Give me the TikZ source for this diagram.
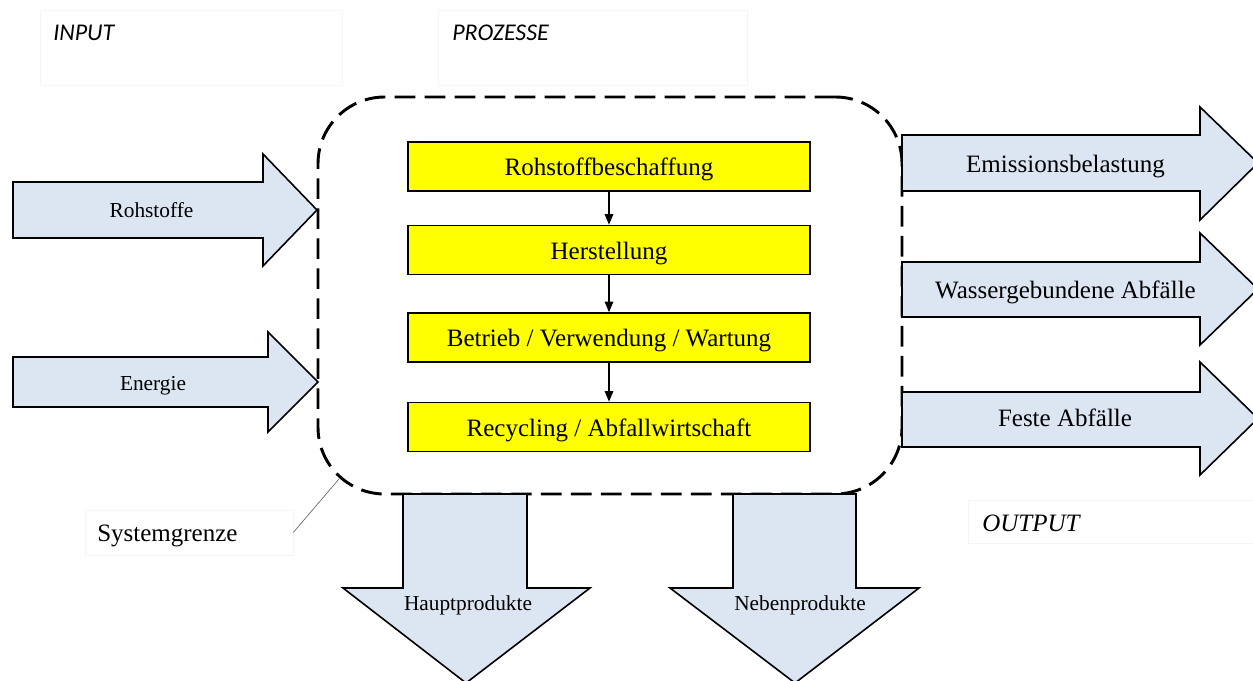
\documentclass[tikz,border=0pt]{standalone}
\usepackage{fontspec}
\setmainfont{Liberation Serif}
\newfontfamily\calfont{Carlito}
\usetikzlibrary{arrows.meta}
\definecolor{arrowblue}{HTML}{DCE6F2}
\definecolor{boxyellow}{HTML}{FFFF00}
\begin{document}
\begin{tikzpicture}[x=0.75pt,y=-0.75pt,
  bigarrow/.style={draw=black,fill=arrowblue,line width=1.2pt,line join=miter},
  procbox/.style={draw=black,fill=boxyellow,line width=1.2pt,minimum width=301.5pt,minimum height=36.75pt,inner sep=0pt,text height=13.5pt,text depth=0pt,font=\fontsize{18.75}{22}\selectfont},
  flow/.style={line width=0.8pt,-{Triangle[length=8pt,width=6.5pt]}},
  sysborder/.style={draw=black,line width=2.2pt,dash pattern=on 15.5pt off 7pt,rounded corners=50pt,minimum width=438pt,minimum height=297.75pt,inner sep=0pt},
  faintbox/.style={draw=black!4,line width=0.4pt,inner sep=0pt},
  biglabel/.style={inner sep=0pt,font=\fontsize{18.75}{22}\selectfont},
  smalllabel/.style={inner sep=0pt,font=\fontsize{16}{19}\selectfont},
  headlabel/.style={inner sep=0pt,font=\calfont\itshape\fontsize{18}{21}\selectfont},
  leader/.style={draw=black!60,line width=0.5pt}
]
\useasboundingbox (0,0) rectangle (1253,681);

% faint text frames
\node[faintbox,minimum width=226.5pt,minimum height=56.25pt] (inbox) at (191,47.5) {};
\node[faintbox,minimum width=231.75pt,minimum height=56.25pt] (prbox) at (592.5,47.5) {};
\node[faintbox,minimum width=156pt,minimum height=33.75pt] (sgbox) at (189,532.5) {};
\node[faintbox,minimum width=225pt,minimum height=32.25pt] (outbox) at (1118,521.5) {};

% headings
\node[headlabel,anchor=base west] (input) at (53,41) {INPUT};
\node[headlabel,anchor=base west] (prozesse) at (452,41) {PROZESSE};
\node[biglabel,anchor=base west,font=\itshape\fontsize{18.75}{22}\selectfont] (output) at (982,531.5) {OUTPUT};
\node[biglabel,anchor=base west] (sgtext) at (97,541.5) {Systemgrenze};

% system boundary
\node[sysborder] (sys) at (610,295.5) {};
\coordinate (sgpt) at (339,479);
\draw[leader] (sgbox.east) -- (sgpt);

% input arrows
\draw[bigarrow] (13,182) -- (263,182) -- (263,154) -- (317,210) -- (263,266) -- (263,238) -- (13,238) -- cycle;
\node[smalllabel,anchor=base] (rohstoffe) at (151.5,217.5) {Rohstoffe};
\draw[bigarrow] (13,357) -- (268,357) -- (268,332) -- (318,382) -- (268,432) -- (268,407) -- (13,407) -- cycle;
\node[smalllabel,anchor=base] (energie) at (153,390.5) {Energie};

% output arrows
\draw[bigarrow] (902,135) -- (1200,135) -- (1200,107) -- (1258,163) -- (1200,220) -- (1200,191) -- (902,191) -- cycle;
\node[biglabel,anchor=base] (emission) at (1065.5,173) {Emissionsbelastung};
\draw[bigarrow] (902,262) -- (1200,262) -- (1200,233) -- (1258,289) -- (1200,345) -- (1200,317) -- (902,317) -- cycle;
\node[biglabel,anchor=base] (wasser) at (1065.5,298) {Wassergebundene Abfälle};
\draw[bigarrow] (902,392) -- (1200,392) -- (1200,362) -- (1258,418.5) -- (1200,475) -- (1200,447) -- (902,447) -- cycle;
\node[biglabel,anchor=base] (feste) at (1065,426.5) {Feste Abfälle};

% bottom arrows
\draw[bigarrow] (403,494) -- (527,494) -- (527,588) -- (590,588) -- (466,683) -- (343,588) -- (403,588) -- cycle;
\node[smalllabel,anchor=base] (haupt) at (468,610.5) {Hauptprodukte};
\draw[bigarrow] (733,494) -- (856,494) -- (856,588) -- (919,588) -- (795,683) -- (670,588) -- (733,588) -- cycle;
\node[smalllabel,anchor=base] (neben) at (800,610.5) {Nebenprodukte};

% process boxes
\node[procbox] (b1) at (609,166.5) {Rohstoffbeschaffung};
\node[procbox] (b2) at (609,250) {Herstellung};
\node[procbox] (b3) at (609,337.5) {Betrieb / Verwendung / Wartung};
\node[procbox] (b4) at (609,427) {Recycling / Abfallwirtschaft};
\draw[flow] (b1) -- (b2);
\draw[flow] (b2) -- (b3);
\draw[flow] (b3) -- (b4);
\end{tikzpicture}
\end{document}
